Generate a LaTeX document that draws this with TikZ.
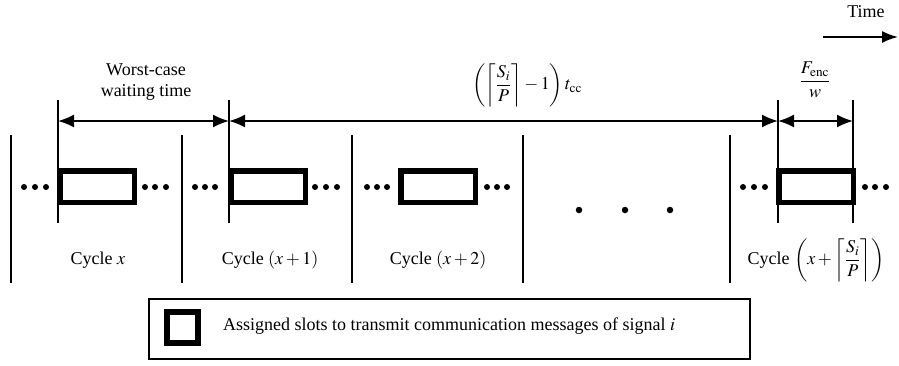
\documentclass[tikz,border=0pt]{standalone}
\usepackage{mathptmx}
\usepackage{fontspec}
\setmainfont{Liberation Serif}
\usetikzlibrary{arrows.meta}
\begin{document}
\begin{tikzpicture}[x=1pt,y=-1pt,
  every node/.style={font=\fontsize{18}{21.5}\selectfont, inner sep=0pt},
  sep/.style={line width=1.6pt},
  marker/.style={line width=1.6pt},
  dim/.style={line width=1.8pt, {Latex[length=16pt,width=13pt]}-{Latex[length=16pt,width=13pt]}},
  slotbox/.style={draw, line width=5.5pt, minimum width=74.5pt, minimum height=31.5pt, inner sep=0pt},
  dot/.style={circle, fill, minimum size=6pt, inner sep=0pt},
  bigdot/.style={circle, fill, minimum size=6.5pt, inner sep=0pt}]
\useasboundingbox (0,0) rectangle (899,365);

% Time arrow
\node (time) at (866,12) {Time};
\coordinate (t0) at (823,37);
\coordinate (t1) at (898,37);
\draw[line width=1.8pt, -{Latex[length=16pt,width=12pt]}] (t0) -- (t1);

% cycle separators
\foreach \n/\x in {s1/11, s2/182, s3/352, s4/523, s5/730} {
  \coordinate (\n t) at (\x,135);
  \coordinate (\n b) at (\x,283);
  \draw[sep] (\n t) -- (\n b);
}

% slot markers
\foreach \n/\x in {m1/58, m2/229, m3/778, m4/853} {
  \coordinate (\n t) at (\x,100);
  \coordinate (\n b) at (\x,223);
  \coordinate (\n a) at (\x,121);
  \draw[marker] (\n t) -- (\n b);
}

% slots
\node[slotbox] (slot1) at (97,186.5) {};
\node[slotbox] (slot2) at (268,186.5) {};
\node[slotbox] (slot3) at (438,186.5) {};
\node[slotbox] (slot4) at (816,186.5) {};

% small dots
\foreach \x [count=\i] in {24,35,46, 145,155,166, 195,205,215, 315,326,337, 367,377,387, 487,497,507, 743,754,765, 865,875,886} {
  \node[dot] (d\i) at (\x,187) {};
}
% big dots
\node[bigdot] (b1) at (579,210) {};
\node[bigdot] (b2) at (625,210) {};
\node[bigdot] (b3) at (670,210) {};

% dimension arrows
\draw[dim] (m1a) -- (m2a);
\draw[dim] (m2a) -- (m3a);
\draw[dim] (m3a) -- (m4a);

% labels above
\node[align=center] (wc) at (146,82) {Worst-case\\[0pt]waiting time};
\node (form) at (527,85) {$\displaystyle\left(\left\lceil\frac{S_i}{P}\right\rceil-1\right)t_{\mathrm{cc}}$};
\node (fenc) at (815,80) {$\displaystyle\frac{F_{\mathrm{enc}}}{w}$};

% cycle labels
\node (c1) at (98,260) {Cycle $x$};
\node (c2) at (270,260) {Cycle $(x+1)$};
\node (c3) at (438,260) {Cycle $(x+2)$};
\node (c4) at (816,260) {Cycle $\displaystyle\left(x+\left\lceil\frac{S_i}{P}\right\rceil\right)$};

% legend
\node[draw, line width=1.6pt, minimum width=601pt, minimum height=60pt] (legend) at (449.5,329) {};
\node[draw, line width=6.5pt, minimum size=31pt] (legsq) at (182.5,327.5) {};
\node[anchor=west] (legtext) at (223,326) {Assigned slots to transmit communication messages of signal $i$};
\end{tikzpicture}
\end{document}
